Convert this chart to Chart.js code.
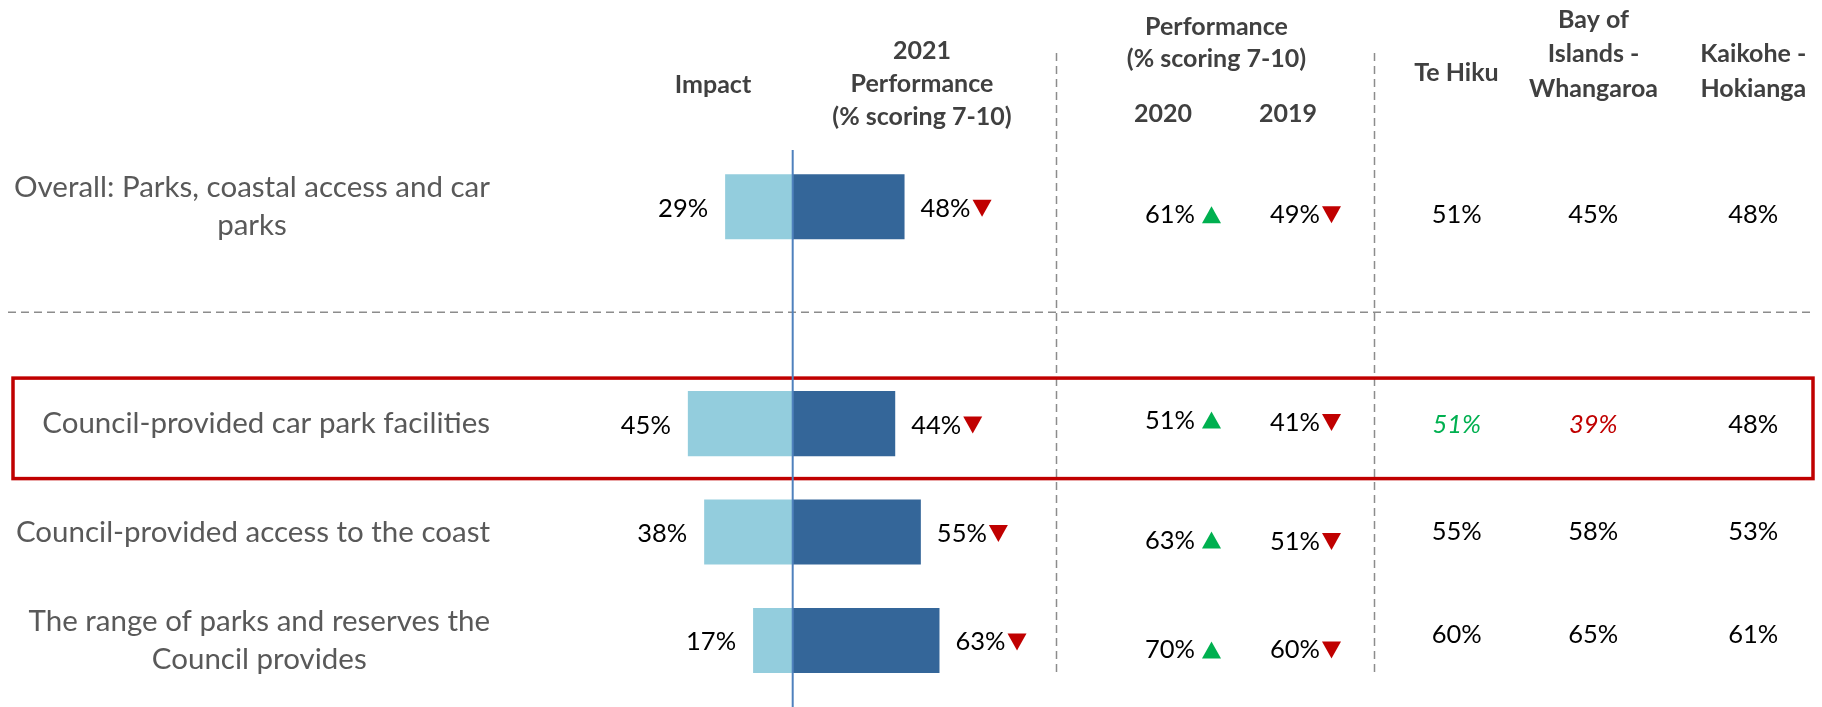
<!DOCTYPE html>
<html><head><meta charset="utf-8">
<script src="https://cdn.jsdelivr.net/npm/chart.js@4"></script>
<style>html,body{margin:0;padding:0;background:#fff;overflow:hidden}canvas{display:block}</style>
</head><body>
<canvas id="c" width="1822" height="707"></canvas>
<script>
// ---------- DATA ----------
const categories = [
  ['Overall: Parks, coastal access and car', 'parks'],
  '',
  ['Council-provided car park facilities'],
  ['Council-provided access to the coast'],
  ['The range of parks and reserves the', 'Council provides']
];
const impact   = [29, null, 45, 38, 17];
const perf2021 = [48, null, 44, 55, 63];
const trend2021 = ['down', null, 'down', 'down', 'down'];
const perf2020 = [61, null, 51, 63, 70];
const trend2020 = ['up', null, 'up', 'up', 'up'];
const perf2019 = [49, null, 41, 51, 60];
const trend2019 = ['down', null, 'down', 'down', 'down'];
const teHiku   = [51, null, 51, 55, 60];
const teHikuSig = [null, null, 'up', null, null];
const bayOfIslands = [45, null, 39, 58, 65];
const bayOfIslandsSig = [null, null, 'down', null, null];
const kaikohe  = [48, null, 48, 53, 61];
const kaikoheSig = [null, null, null, null, null];
const headerImpact = ['Impact'];
const header2021 = ['2021', 'Performance', '(% scoring 7-10)'];
const headerPrev = ['Performance', '(% scoring 7-10)'];
const headerYears = ['2020', '2019'];
const headerTeHiku = ['Te Hiku'];
const headerBay = ['Bay of', 'Islands -', 'Whangaroa'];
const headerKaikohe = ['Kaikohe -', 'Hokianga'];
const highlightRow = 2;

// ---------- STYLE / LAYOUT ----------
const FONT = '"Lato", "Open Sans", sans-serif';
const LABEL_FONT = '29.5px ' + FONT;
const VALUE_FONT = '25.5px ' + FONT;
const HEAD_FONT = 'bold 25px ' + FONT;
const C_LIGHT = '#93CDDD', C_DARK = '#346699';
const C_RED = '#C00000', C_GREEN = '#00B050';
const regionShift = [16, 0, 9, 8, 3];
const shift2020 = [16.5, 0, 5, 16.5, 18];
const shift2019 = [16.5, 0, 7.5, 18, 18];

function tri(ctx, x, baseline, dir) {
  const w = 19, h = 17;
  ctx.beginPath();
  if (dir === 'down') {
    ctx.moveTo(x, baseline - h); ctx.lineTo(x + w, baseline - h); ctx.lineTo(x + w / 2, baseline);
    ctx.fillStyle = C_RED;
  } else {
    ctx.moveTo(x, baseline); ctx.lineTo(x + w, baseline); ctx.lineTo(x + w / 2, baseline - h);
    ctx.fillStyle = C_GREEN;
  }
  ctx.closePath(); ctx.fill();
}
function dashed(ctx, x1, y1, x2, y2) {
  ctx.save(); ctx.strokeStyle = '#8C8C8C'; ctx.lineWidth = 1.5; ctx.setLineDash([8, 5]);
  ctx.beginPath(); ctx.moveTo(x1, y1); ctx.lineTo(x2, y2); ctx.stroke(); ctx.restore();
}
function lines(ctx, arr, cx, firstBaseline, gap) {
  arr.forEach((t, i) => ctx.fillText(t, cx, firstBaseline + i * gap));
}

const tablePlugin = {
  id: 'tablePlugin',
  beforeDatasetsDraw(chart) {
    const ctx = chart.ctx, ys = chart.scales.y;
    ctx.save();
    dashed(ctx, 1056.5, 53, 1056.5, 673);
    dashed(ctx, 1374.5, 53, 1374.5, 673);
    const ySep = ys.getPixelForValue(1) - 3;
    dashed(ctx, 8, ySep, 1813, ySep);
    const yh = ys.getPixelForValue(highlightRow);
    ctx.strokeStyle = C_RED; ctx.lineWidth = 3.5;
    ctx.strokeRect(13, yh - 45.5, 1800, 100.5);
    ctx.restore();
  },
  afterDatasetsDraw(chart) {
    const ctx = chart.ctx, xs = chart.scales.x, ys = chart.scales.y;
    const x0 = xs.getPixelForValue(0);
    ctx.save();
    // origin line
    ctx.strokeStyle = '#4F81BD'; ctx.lineWidth = 2;
    ctx.beginPath(); ctx.moveTo(x0, 150); ctx.lineTo(x0, 707); ctx.stroke();

    // category labels (block right-aligned, lines centred)
    ctx.font = LABEL_FONT; ctx.fillStyle = '#595959'; ctx.textBaseline = 'middle';
    categories.forEach((lab, i) => {
      const arr = Array.isArray(lab) ? lab : [lab];
      if (!arr.length || !arr[0]) return;
      const w = Math.max(...arr.map(t => ctx.measureText(t).width));
      const cx = 490 - w / 2;
      const cy = ys.getPixelForValue(i);
      const gap = 38;
      ctx.textAlign = 'center';
      arr.forEach((t, k) => ctx.fillText(t, cx, cy + (k - (arr.length - 1) / 2) * gap));
    });

    // headers
    ctx.font = HEAD_FONT; ctx.fillStyle = '#404040'; ctx.textAlign = 'center'; ctx.textBaseline = 'alphabetic';
    lines(ctx, headerImpact, 713, 93, 33);
    lines(ctx, header2021, 922, 58.5, 33);
    lines(ctx, headerPrev, 1216.5, 35, 32);
    ctx.fillText(headerYears[0], 1163, 121.5);
    ctx.fillText(headerYears[1], 1288, 121.5);
    lines(ctx, headerTeHiku, 1456.5, 80.5, 34);
    lines(ctx, headerBay, 1593.5, 28, 34.3);
    lines(ctx, headerKaikohe, 1753.3, 62.3, 34.3);

    // bar value labels
    ctx.font = VALUE_FONT; ctx.fillStyle = '#000';
    const mImp = chart.getDatasetMeta(0), mPerf = chart.getDatasetMeta(1);
    impact.forEach((v, i) => {
      if (v == null) return;
      const el = mImp.data[i];
      ctx.textAlign = 'right';
      ctx.fillText(v + '%', el.x - 17, el.y + 10);
    });
    perf2021.forEach((v, i) => {
      if (v == null) return;
      const el = mPerf.data[i];
      ctx.textAlign = 'left';
      const t = v + '%';
      const bx = el.x + 16;
      ctx.fillText(t, bx, el.y + 10);
      const w = ctx.measureText(t).width;
      tri(ctx, bx + w + 2, el.y + 10, trend2021[i]);
      ctx.fillStyle = '#000';
    });

    // previous years
    [[perf2020, trend2020, shift2020, 1195, 1202], [perf2019, trend2019, shift2019, 1320, 1322]].forEach(([vals, tr, sh, xr, xt]) => {
      vals.forEach((v, i) => {
        if (v == null) return;
        const b = ys.getPixelForValue(i) + sh[i];
        ctx.textAlign = 'right'; ctx.fillStyle = '#000'; ctx.font = VALUE_FONT;
        ctx.fillText(v + '%', xr, b);
        tri(ctx, xt, b, tr[i]);
      });
    });

    // regions
    [[teHiku, teHikuSig, 1456.7], [bayOfIslands, bayOfIslandsSig, 1593.3], [kaikohe, kaikoheSig, 1753.3]].forEach(([vals, sig, cx]) => {
      vals.forEach((v, i) => {
        if (v == null) return;
        const b = ys.getPixelForValue(i) + regionShift[i];
        ctx.textAlign = 'center';
        if (sig[i] === 'up') { ctx.fillStyle = C_GREEN; ctx.font = 'italic ' + VALUE_FONT; }
        else if (sig[i] === 'down') { ctx.fillStyle = C_RED; ctx.font = 'italic ' + VALUE_FONT; }
        else { ctx.fillStyle = '#000'; ctx.font = VALUE_FONT; }
        ctx.fillText(v + '%', cx, b);
      });
    });
    ctx.restore();
  }
};

new Chart(document.getElementById('c'), {
  type: 'bar',
  data: {
    labels: categories,
    datasets: [
      { label: 'Impact', data: impact.map(v => v == null ? null : -v), backgroundColor: C_LIGHT, barPercentage: 0.6, categoryPercentage: 1 },
      { label: '2021 Performance', data: perf2021, backgroundColor: C_DARK, barPercentage: 0.6, categoryPercentage: 1 }
    ]
  },
  options: {
    indexAxis: 'y',
    responsive: false,
    animation: false,
    devicePixelRatio: 1,
    layout: { padding: { left: 559.7, right: 796.3, top: 152.5, bottom: 12.3 } },
    plugins: { legend: { display: false }, tooltip: { enabled: false }, title: { display: false } },
    scales: {
      x: { display: false, stacked: true, min: -100, max: 100 },
      y: { display: false, stacked: true }
    }
  },
  plugins: [tablePlugin]
});
</script>
</body></html>
